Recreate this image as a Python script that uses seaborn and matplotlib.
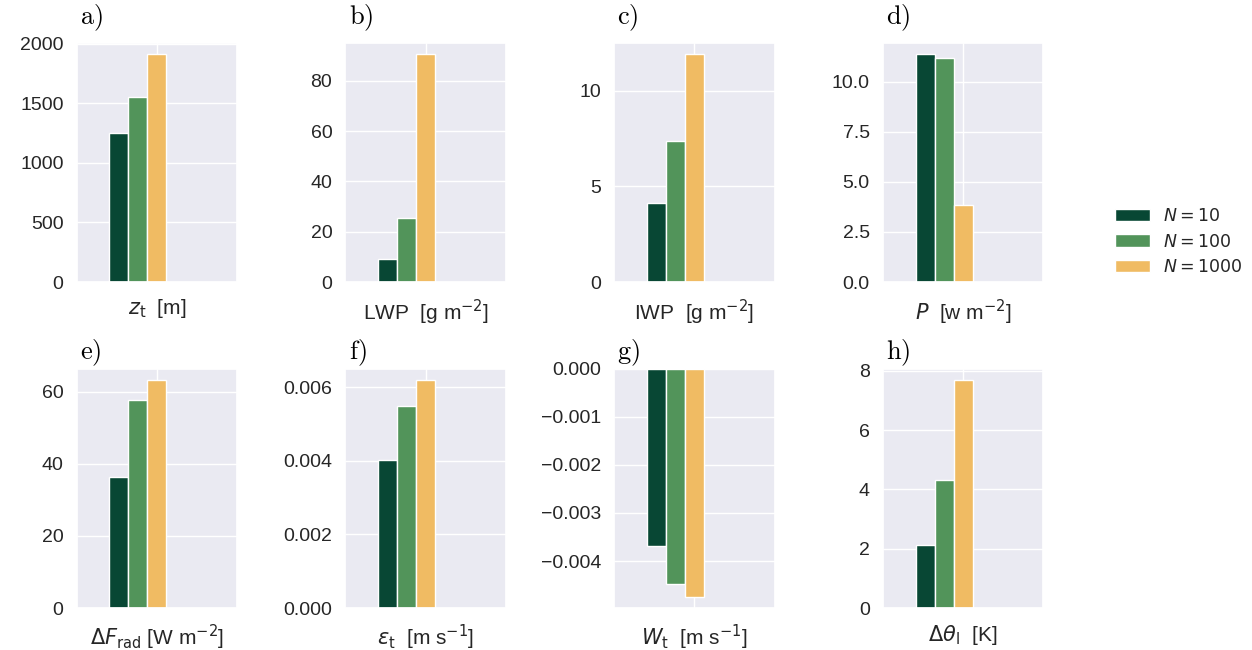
import pandas as pd
import seaborn as sns
import matplotlib.pyplot as plt
from matplotlib.patches import Patch

# Runs / hue levels
runs = ['N=10', 'N=100', 'N=1000']
legend_labels = [r'$N = 10$', r'$N = 100$', r'$N = 1000$']
run_colors = ['#084734', '#52945a', '#f0bb63']

# Values, one list per panel (N=10, N=100, N=1000)
z_t = [1248, 1550, 1914]
lwp = [9.3, 25.6, 90.6]
iwp = [4.12, 7.39, 11.92]
precip = [11.37, 11.17, 3.82]
dF_rad = [36.4, 57.7, 63.3]
eps_t = [0.00402, 0.0055, 0.0062]
w_t = [-0.00368, -0.00447, -0.00474]
dtheta_l = [2.12, 4.31, 7.69]

panel_values = [z_t, lwp, iwp, precip, dF_rad, eps_t, w_t, dtheta_l]
panel_letters = ['a', 'b', 'c', 'd', 'e', 'f', 'g', 'h']
xlabels = [
    r'$z_\mathrm{t}$  [m]',
    r'LWP  [g m$^{-2}$]',
    r'IWP  [g m$^{-2}$]',
    r'$P$  [w m$^{-2}$]',
    r'$\Delta F_\mathrm{rad}$ [W m$^{-2}$]',
    r'$\varepsilon_\mathrm{t}$  [m s$^{-1}$]',
    r'$W_\mathrm{t}$  [m s$^{-1}$]',
    r'$\Delta \theta_\mathrm{l}$  [K]',
]
# y ticks that the auto locator does not pick the same way
iwp_ticks = [0, 5, 10]
precip_ticks = [0, 2.5, 5, 7.5, 10]

sns.set_theme(style='darkgrid', font_scale=1.2)
plt.rcParams['font.family'] = ['Liberation Sans', 'DejaVu Sans']
plt.rcParams['ytick.labelsize'] = 14
plt.rcParams['axes.labelsize'] = 15

palette = dict(zip(runs, run_colors))

fig, axes = plt.subplots(2, 4, figsize=(12.52, 6.5), dpi=100)
fig.subplots_adjust(left=0.0613, right=0.8333, top=0.9343, bottom=0.0646,
                    wspace=0.676, hspace=0.362)

for i, ax in enumerate(axes.flat):
    df = pd.DataFrame({'run': runs, 'value': panel_values[i]})
    sns.barplot(data=df, x='run', y='value', hue='run', order=runs,
                hue_order=runs, palette=palette, saturation=1, width=1.0,
                errorbar=None, edgecolor='white', linewidth=1, legend=False,
                ax=ax)
    # single vertical grid line through the last bar, no tick labels
    ax.set_xticks([2])
    ax.xaxis.grid(True)
    ax.tick_params(labelbottom=False)
    ax.set_xlim(2 - 4.22, 2 + 4.22)
    ax.set_ylabel('')
    ax.set_xlabel(xlabels[i], labelpad=11)

    y_lab = 1.039 if i < 4 else 1.004
    ax.text(0.02, y_lab, r'$\mathrm{' + panel_letters[i] + ')}$',
            transform=ax.transAxes, fontsize=19, math_fontfamily='cm',
            ha='left', va='bottom', color='black')

axes[0, 2].set_yticks(iwp_ticks)
axes[0, 3].set_yticks(precip_ticks)
axes[0, 3].set_yticklabels([f'{t:.1f}' for t in precip_ticks])

handles = [Patch(facecolor=c, edgecolor='white', label=l)
           for c, l in zip(run_colors, legend_labels)]
fig.legend(handles=handles, loc='center left', bbox_to_anchor=(0.878, 0.629),
           frameon=False, fontsize=12.5, handlelength=2.0)

fig.savefig('out.png', dpi=100)
